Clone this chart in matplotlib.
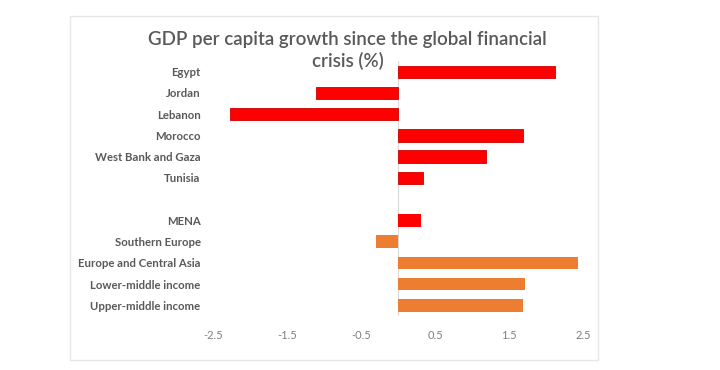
import matplotlib.pyplot as plt
import numpy as np

# data
countries = ['Egypt', 'Jordan', 'Lebanon', 'Morocco', 'West Bank and Gaza', 'Tunisia']
country_growth = [2.12, -1.11, -2.27, 1.68, 1.19, 0.34]
groups = ['MENA', 'Southern Europe', 'Europe and Central Asia',
          'Lower-middle income', 'Upper-middle income']
group_growth = [0.31, -0.30, 2.43, 1.72, 1.68]
group_colors = ['#ff0000', '#ed7d31', '#ed7d31', '#ed7d31', '#ed7d31']
xticks = [-2.5, -1.5, -0.5, 0.5, 1.5, 2.5]
title_lines = ['GDP per capita growth since the global financial', 'crisis (%)']

plt.rcParams['font.family'] = ['Lato', 'DejaVu Sans']

fig = plt.figure(figsize=(7.2, 3.7), dpi=100)
ax = fig.add_axes([0.296, 0.146, 0.514, 0.689])

# one empty slot between the two groups
y_c = np.arange(len(countries))
y_g = np.arange(len(groups)) + len(countries) + 1
ax.barh(y_c, country_growth, height=0.58, color='#ff0000', edgecolor='#d00000', linewidth=0.6)
ax.barh(y_g, group_growth, height=0.58, color=group_colors, linewidth=0)

ax.set_yticks(list(y_c) + list(y_g))
ax.set_yticklabels(countries + groups, fontsize=8.2, fontweight='bold', color='#595959')
ax.set_ylim(len(countries) + len(groups) + 0.5, -0.5)
ax.set_xlim(-2.5, 2.5)
ax.set_xticks(xticks)
ax.set_xticklabels([str(v) for v in xticks], fontsize=8, color='#7f7f7f')
ax.tick_params(axis='y', length=0, pad=9)
ax.tick_params(axis='x', length=0, pad=10)
for s in ax.spines.values():
    s.set_visible(False)
ax.axvline(0, color='#d9d9d9', linewidth=0.8, zorder=0)

# title, one text per line
fig.text(0.483, 1 - 40 / 370, title_lines[0], ha='center', va='center',
         fontsize=13.5, fontweight='semibold', color='#595959')
fig.text(0.483, 1 - 61 / 370, title_lines[1], ha='center', va='center',
         fontsize=13.5, fontweight='semibold', color='#595959')

# light frame round the chart
frame = plt.Rectangle((70 / 720, 1 - 360 / 370), 528 / 720, 344 / 370, transform=fig.transFigure,
                      fill=False, edgecolor='#e6e6e6', linewidth=1)
fig.add_artist(frame)

plt.savefig('out.png', dpi=100)
